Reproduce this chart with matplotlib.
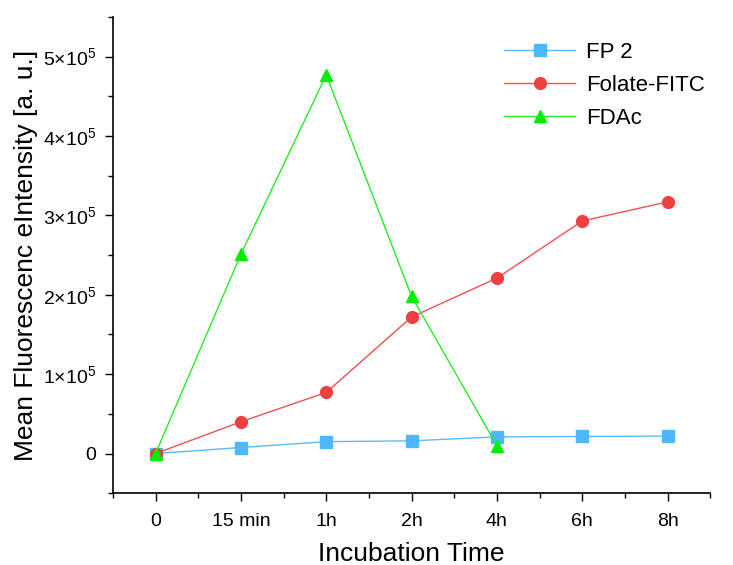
import numpy as np
import matplotlib.pyplot as plt
from matplotlib.ticker import FixedLocator, FuncFormatter, MultipleLocator

plt.rcParams['font.family'] = ['Liberation Sans', 'DejaVu Sans']
plt.rcParams['mathtext.fontset'] = 'custom'
plt.rcParams['mathtext.rm'] = 'Liberation Sans'
plt.rcParams['mathtext.it'] = 'Liberation Sans:italic'

times = ["0", "15 min", "1h", "2h", "4h", "6h", "8h"]
fp2 = [0, 7600, 15000, 16000, 21000, 21500, 22000]
folate_fitc = [0, 40000, 77000, 172000, 221000, 293000, 317000]
fdac = [0, 251000, 477000, 198000, 10000]

fig = plt.figure(figsize=(7.33, 5.65), dpi=100)
ax = fig.add_axes([0.154, 0.127, 0.815, 0.843])

x = np.arange(len(times))
ax.plot(x, fp2, color="#5bbcf5", lw=1, marker="s", ms=8, mfc="#4db8ff", mec="#4db8ff", label="FP 2")
ax.plot(x, folate_fitc, color="#f05050", lw=1, marker="o", ms=8.5, mfc="#ef4040", mec="#ef4040", label="Folate-FITC")
ax.plot(x[:len(fdac)], fdac, color="#22ee22", lw=1, marker="^", ms=9, mfc="#00ee00", mec="#00ee00", label="FDAc")

ax.set_xlim(-0.5, 6.5)
ax.set_ylim(-50000, 550000)
ax.set_xticks(x)
ax.set_xticklabels(times)
ax.xaxis.set_minor_locator(FixedLocator(np.arange(-0.5, 7, 1)))
ax.yaxis.set_major_locator(MultipleLocator(100000))
ax.yaxis.set_minor_locator(MultipleLocator(50000))


def sci(v, pos):
    if v == 0:
        return "0"
    return r"%d$\times$10$^{5}$" % round(v / 1e5)


ax.yaxis.set_major_formatter(FuncFormatter(sci))
ax.tick_params(which="major", direction="out", length=6, width=1, labelsize=14)
ax.tick_params(which="minor", direction="out", length=3.5, width=1)
ax.tick_params(axis="x", pad=8)
ax.tick_params(axis="y", pad=6)
for s in ["top", "right"]:
    ax.spines[s].set_visible(False)
for s in ["left", "bottom"]:
    ax.spines[s].set_linewidth(1.2)

ax.set_xlabel("Incubation Time", fontsize=19, labelpad=9)
ax.set_ylabel("Mean Fluorescenc eIntensity [a. u.]", fontsize=19, labelpad=4)
ax.legend(loc="upper right", bbox_to_anchor=(1.025, 0.99), frameon=False, fontsize=16,
          handlelength=3.2, handletextpad=0.5, labelspacing=0.55)

fig.savefig("out.png", dpi=100)
